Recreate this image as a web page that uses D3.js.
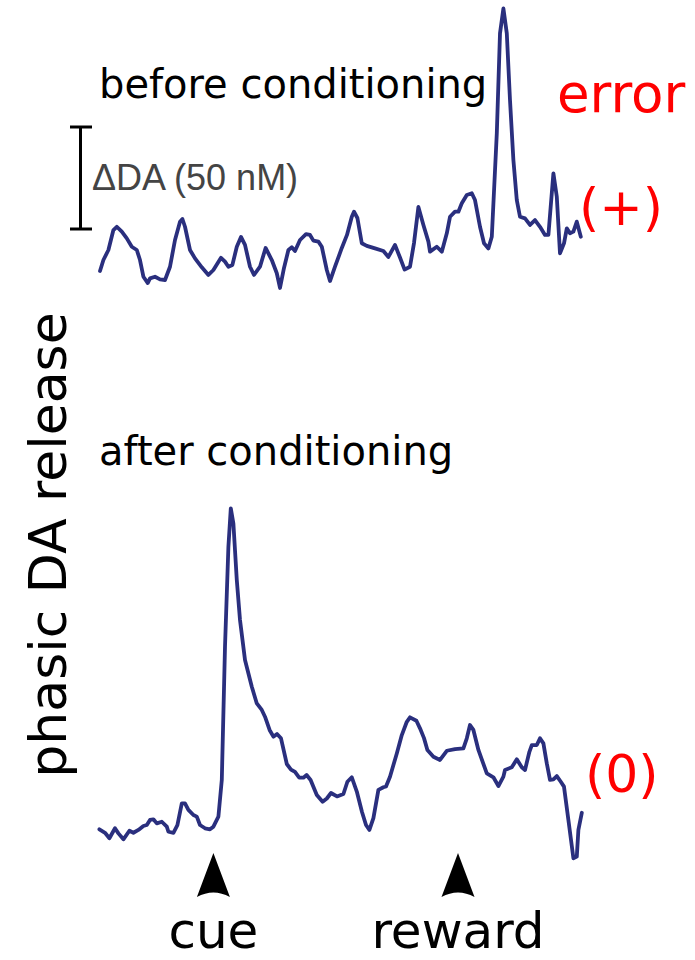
<!DOCTYPE html>
<html>
<head>
<meta charset="utf-8">
<script src="https://cdn.jsdelivr.net/npm/d3@7"></script>
<style>
  html, body { margin: 0; padding: 0; background: #ffffff; }
  svg { display: block; }
</style>
</head>
<body>
<svg id="chart" width="695" height="960"></svg>
<script>
// ---- DATA (time in s, ΔDA in nM above trace floor) ----
const beforeTime = [0.1,0.27,0.52,0.77,0.94,1.19,1.44,1.69,1.94,2.10,2.27,2.49,2.60,2.85,3.10,3.35,3.60,3.85,4.10,4.22,4.35,4.60,4.85,5.19,5.52,5.77,6.15,6.35,6.52,6.72,6.94,7.15,7.35,7.60,7.80,8.10,8.38,8.69,8.94,9.10,9.30,9.52,9.69,9.85,10.10,10.40,10.60,10.77,11.02,11.19,11.44,11.60,11.85,12.19,12.45,12.69,12.80,12.97,13.19,13.44,13.85,14.27,14.52,14.85,15.10,15.33,15.60,15.80,16.02,16.27,16.52,16.60,16.94,17.19,17.44,17.60,17.85,18.02,18.19,18.44,18.69,18.85,19.10,19.30,19.52,19.69,19.94,20.10,20.27,20.44,20.60,20.77,20.94,21.10,21.35,21.60,21.85,22.10,22.35,22.52,22.77,22.94,23.10,23.30,23.44,23.60,23.77,23.94,24.14];
const beforeDA = [9.3,14.7,19.6,29.4,31.0,28.6,25.3,21.2,19.6,14.7,6.5,3.4,5.7,6.5,5.2,4.9,11.4,24.5,33.5,34.8,31.0,19.6,15.5,11.1,7.4,9.8,15.8,13.9,11.4,12.3,21.2,26.0,22.1,11.4,7.4,11.4,20.6,14.7,8.2,1.0,10.8,19.6,20.9,19.1,24.5,27.4,27.0,24.2,23.7,21.2,9.8,4.4,11.4,20.6,27.0,35.9,38.4,35.3,22.9,21.6,20.4,19.1,16.2,22.1,15.9,10.0,11.4,23.0,40.7,31.9,23.7,18.8,21.2,18.8,27.8,35.9,38.4,38.4,42.5,46.6,47.4,44.1,31.0,22.9,20.4,26.1,76.8,125.8,138.0,125.8,93.1,63.7,44.1,35.9,35.1,31.9,34.3,31.0,27.0,27.0,57.2,45.7,18.0,22.9,30.2,27.8,28.6,33.5,26.1];

const afterTime = [0.07,0.35,0.57,0.85,1.02,1.27,1.57,1.77,2.02,2.27,2.44,2.60,2.77,2.94,3.19,3.44,3.52,3.77,3.97,4.19,4.35,4.52,4.77,4.94,5.10,5.35,5.60,5.77,6.02,6.19,6.35,6.52,6.64,6.77,6.94,7.10,7.35,7.69,7.94,8.19,8.35,8.58,8.77,8.95,9.15,9.44,9.65,9.85,10.05,10.27,10.43,10.63,10.94,11.23,11.44,11.65,11.95,12.27,12.47,12.69,12.94,13.20,13.40,13.57,13.77,14.02,14.27,14.40,14.60,14.94,15.19,15.44,15.60,15.92,16.10,16.30,16.47,16.77,17.10,17.44,17.85,18.27,18.44,18.60,18.77,19.02,19.44,19.77,20.02,20.27,20.35,20.69,20.94,21.19,21.35,21.57,21.69,21.94,22.10,22.27,22.44,22.60,22.77,22.94,23.14,23.30,23.52,23.77,23.94,24.02,24.19];
const afterDA = [17.5,15.8,13.1,18.0,15.5,12.6,16.8,15.8,17.2,19.1,19.6,22.1,22.4,20.4,21.2,18.8,16.3,15.8,19.6,30.2,30.2,27.0,24.5,23.7,19.6,18.0,17.5,18.8,23.7,41.7,107.0,156.0,174.8,167.4,139.7,120.1,100.5,87.4,79.2,76.0,72.7,66.2,62.9,64.2,62.1,49.5,46.8,45.6,42.9,42.8,44.1,41.7,34.3,31.0,32.6,35.3,33.6,34.8,40.8,43.0,36.0,26.0,19.6,17.2,23.0,36.8,38.1,38.5,43.3,54.7,63.7,70.2,72.4,70.7,67.0,62.2,56.4,53.1,51.5,56.0,56.8,57.2,62.1,68.6,66.2,56.4,44.9,43.0,38.7,43.3,46.6,47.9,51.8,47.9,46.6,55.5,58.8,58.8,62.1,59.6,49.8,41.7,42.0,43.6,40.8,38.4,22.1,3.3,4.1,17.2,25.6];

const eventNames = ["cue", "reward"];
const eventTimes = [5.77, 18.0];

const scaleBarNM = 50;
const panelTitles = ["before conditioning", "after conditioning"];
const errorLabels = ["(+)", "(0)"];

// ---- DRAWING ----
const svg = d3.select("#chart");
const traceColor = "#2a2f7e";
const labelFont = "'DejaVu Sans', Verdana, sans-serif";

const x = d3.scaleLinear().domain([0, 24.14]).range([98, 98 + 24.14 * 20]);
const yTop = d3.scaleLinear().domain([0, 50]).range([290, 188]);
const yBot = d3.scaleLinear().domain([0, 50]).range([865, 763]);

const toPts = (ts, vs) => ts.map((t, i) => [t, vs[i]]);

function drawTrace(pts, y) {
  const line = d3.line().x(d => x(d[0])).y(d => y(d[1]));
  svg.append("path")
    .datum(pts)
    .attr("d", line)
    .attr("fill", "none")
    .attr("stroke", traceColor)
    .attr("stroke-width", 3.8)
    .attr("stroke-linejoin", "round")
    .attr("stroke-linecap", "round");
}

drawTrace(toPts(beforeTime, beforeDA), yTop);
drawTrace(toPts(afterTime, afterDA), yBot);

// scale bar (50 nM)
const sbX = 80.5;
const sbTop = yTop(scaleBarNM) - 61;
const sbBot = yTop(0) - 61;
const sb = svg.append("g").attr("stroke", "#000").attr("stroke-width", 3);
sb.append("line").attr("x1", sbX).attr("x2", sbX).attr("y1", sbTop).attr("y2", sbBot);
sb.append("line").attr("x1", sbX - 10.5).attr("x2", sbX + 11.5).attr("y1", sbTop).attr("y2", sbTop);
sb.append("line").attr("x1", sbX - 10.5).attr("x2", sbX + 11.5).attr("y1", sbBot).attr("y2", sbBot);

svg.append("text")
  .attr("x", 92).attr("y", 190)
  .attr("font-family", "'Liberation Sans', Arial, sans-serif")
  .attr("font-size", 36)
  .attr("fill", "#444444")
  .text("\u0394DA (" + scaleBarNM + " nM)");

// panel titles
svg.append("text")
  .attr("x", 99).attr("y", 98)
  .attr("font-family", labelFont).attr("font-size", 40).attr("fill", "#000")
  .text(panelTitles[0]);
svg.append("text")
  .attr("x", 99).attr("y", 465)
  .attr("font-family", labelFont).attr("font-size", 40).attr("fill", "#000")
  .text(panelTitles[1]);

// error labels
svg.append("text")
  .attr("x", 557).attr("y", 112)
  .attr("font-family", labelFont).attr("font-size", 53).attr("fill", "#ff0000")
  .text("error");
svg.append("text")
  .attr("x", 579).attr("y", 225)
  .attr("font-family", labelFont).attr("font-size", 52).attr("fill", "#ff0000")
  .text(errorLabels[0]);
svg.append("text")
  .attr("x", 585).attr("y", 792)
  .attr("font-family", labelFont).attr("font-size", 52).attr("fill", "#ff0000")
  .text(errorLabels[1]);

// y-axis label
svg.append("text")
  .attr("transform", "translate(66,545) rotate(-90)")
  .attr("text-anchor", "middle")
  .attr("font-family", labelFont).attr("font-size", 52).attr("fill", "#000")
  .text("phasic DA release");

// event arrowheads and labels
const ev = svg.append("g");
eventNames.forEach((name, i) => {
  const cx = x(eventTimes[i]);
  const tip = 853, base = 897, hw = 16.5;
  ev.append("path")
    .attr("d", `M${cx},${tip} L${cx + hw},${base} Q${cx},${base - 9} ${cx - hw},${base} Z`)
    .attr("fill", "#000");
  ev.append("text")
    .attr("x", cx).attr("y", 948)
    .attr("text-anchor", "middle")
    .attr("font-family", labelFont).attr("font-size", 50).attr("fill", "#000")
    .text(name);
});
</script>
</body>
</html>
